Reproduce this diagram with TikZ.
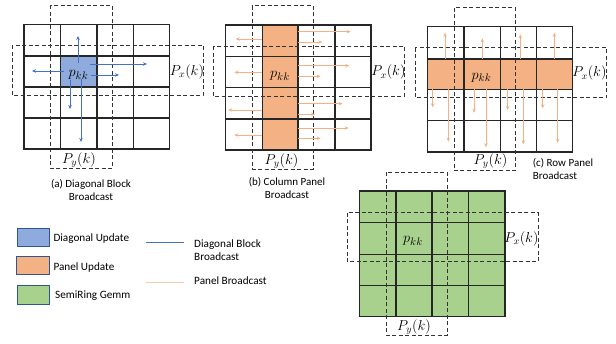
\documentclass[tikz,border=0pt]{standalone}
\usepackage{fontspec}
\setmainfont{Carlito}
\usetikzlibrary{arrows.meta}

\definecolor{diagfill}{HTML}{8FAADC}
\definecolor{diagline}{HTML}{4472C4}
\definecolor{panelfill}{HTML}{F4B183}
\definecolor{panelline}{HTML}{F4B183}
\definecolor{panellegend}{HTML}{F8CBAD}
\definecolor{gemmfill}{HTML}{A9D18E}
\definecolor{legendedge}{HTML}{2F5597}
\definecolor{gridline}{HTML}{262626}
\definecolor{dashline}{HTML}{333333}

\tikzset{
  gridstroke/.style={draw=gridline, line width=1.5pt},
  procbox/.style={draw=dashline, line width=0.9pt, dash pattern=on 4pt off 2.5pt},
  bcastblue/.style={draw=diagline, line width=1pt, -{Stealth[length=4pt,width=3.5pt]}},
  bcastorange/.style={draw=panelline, line width=1pt, -{Stealth[length=4pt,width=3.5pt]}},
  mathlabel/.style={inner sep=0pt, font=\fontsize{14}{16}\selectfont},
  diaglabel/.style={inner sep=0pt, font=\fontsize{15}{17}\selectfont},
  caption/.style={inner sep=0pt, align=center, font=\fontsize{11}{13}\selectfont},
  legendtext/.style={inner sep=0pt, anchor=west, align=left, font=\fontsize{11.2}{13.4}\selectfont},
  legendbox/.style={draw=legendedge, line width=1pt},
}

\begin{document}
\begin{tikzpicture}[x=1pt,y=-1pt]
\useasboundingbox (0,0) rectangle (616,343);

% ---------------- (a) diagonal block broadcast ----------------
\fill[diagfill] (60.7,56) rectangle (97,87);
\foreach \x in {60.7,97,133.5} \draw[gridstroke] (\x,24.3) -- (\x,149);
\foreach \y in {56,87,118} \draw[gridstroke] (24,\y) -- (169.5,\y);
\draw[gridstroke] (24,24.3) rectangle (169.5,149);
\draw[procbox] (50,5) rectangle (112,168);
\draw[procbox] (12,45) rectangle (203,95);
\node[diaglabel] (pa) at (78.5,75) {$p_{kk}$};
\node[mathlabel] (pxa) at (187,72) {$P_x(k)$};
\node[mathlabel] (pya) at (79,160) {$P_y(k)$};
\draw[bcastblue] (78,63) -- (78,36);
\draw[bcastblue] (64,71) -- (32,71);
\draw[bcastblue] (90,64) -- (147,64);
\draw[bcastblue] (91,75) -- (119,75);
\draw[bcastblue] (70,80) -- (70,109);
\draw[bcastblue] (81,79) -- (81,142);
\node[caption] (capa) at (91,190.5) {(a) Diagonal Block\\Broadcast};

% ---------------- (b) column panel broadcast ----------------
\fill[panelfill] (262.3,25) rectangle (298,150);
\foreach \x in {262.3,298,335} \draw[gridstroke] (\x,25) -- (\x,150);
\foreach \y in {56.7,87.7,119} \draw[gridstroke] (225.7,\y) -- (371,\y);
\draw[gridstroke] (225.7,25) rectangle (371,150);
\draw[procbox] (252.3,5.7) rectangle (313.3,169);
\draw[procbox] (213,46.3) rectangle (404.7,96);
\node[diaglabel] (pb) at (280,75.7) {$p_{kk}$};
\node[mathlabel] (pxb) at (388.5,72.3) {$P_x(k)$};
\node[mathlabel] (pyb) at (281.5,161) {$P_y(k)$};
\foreach \y/\e in {39/235.7,72.3/234.3,110/228.3,135/234.3}
  \draw[bcastorange] (262.3,\y) -- (\e,\y);
\foreach \y/\e in {31.7/350.7,42/322.3,65.7/349.3,76.3/320.7,103.7/342.7,114.3/315,128/348.7,138.3/320.7}
  \draw[bcastorange] (298,\y) -- (\e,\y);
\node[caption] (capb) at (287,188.5) {(b) Column Panel\\Broadcast};

% ---------------- (c) row panel broadcast ----------------
\fill[panelfill] (427.7,59) rectangle (572.3,89.3);
\foreach \x in {464,500.3,536.7} \draw[gridstroke] (\x,26.7) -- (\x,152);
\foreach \y in {59,89.3,120.7} \draw[gridstroke] (427.7,\y) -- (572.3,\y);
\draw[gridstroke] (427.7,26.7) rectangle (572.3,152);
\draw[procbox] (454.3,7.7) rectangle (515.3,170.7);
\draw[procbox] (415.3,47.7) rectangle (606.7,97.7);
\node[diaglabel] (pc) at (481.5,77.3) {$p_{kk}$};
\node[mathlabel] (pxc) at (589.5,73.3) {$P_x(k)$};
\node[mathlabel] (pyc) at (490.5,160.7) {$P_y(k)$};
\foreach \x/\e in {445/32.7,482.3/38.3,520.3/34.3,554.3/32.7}
  \draw[bcastorange] (\x,59) -- (\x,\e);
\foreach \x/\e in {432.7/107.3,448.3/141.7,474/112.7,486/147.3,507.7/110,523.3/144.3,542.7/108.3,557.7/142.7}
  \draw[bcastorange] (\x,89.3) -- (\x,\e);
\node[caption, align=left, anchor=north west] (capc) at (532.7,158.5) {(c) Row Panel\\Broadcast};

% ---------------- (d) semiring gemm ----------------
\fill[gemmfill] (359.3,191) rectangle (505,316.7);
\foreach \x in {396,432,468.7} \draw[gridstroke] (\x,191) -- (\x,316.7);
\foreach \y in {222.7,254.3,285.7} \draw[gridstroke] (359.3,\y) -- (505,\y);
\draw[gridstroke] (359.3,191) rectangle (505,316.7);
\draw[procbox] (386,172.3) rectangle (447.3,335);
\draw[procbox] (347.3,212.7) rectangle (538.3,261.7);
\node[diaglabel] (pd) at (413,241) {$p_{kk}$};
\node[mathlabel] (pxd) at (521.5,239) {$P_x(k)$};
\node[mathlabel] (pyd) at (414,326.7) {$P_y(k)$};

% ---------------- legend ----------------
\draw[legendbox, fill=diagfill] (17.3,228.3) rectangle (49.3,246.7);
\draw[legendbox, fill=panelfill] (16.7,256.7) rectangle (49,274);
\draw[legendbox, fill=gemmfill] (17.3,285.7) rectangle (49.7,304);
\node[legendtext] (ldiag) at (53.3,238.3) {Diagonal Update};
\node[legendtext] (lpanel) at (53.3,267.3) {Panel Update};
\node[legendtext] (lgemm) at (55,295.7) {SemiRing Gemm};
\coordinate (lbA) at (146,242.7);
\coordinate (lbB) at (183.7,242.7);
\coordinate (loA) at (146,282.7);
\coordinate (loB) at (183.7,282.7);
\draw[diagline, line width=1.2pt] (lbA) -- (lbB);
\draw[panellegend, line width=1.2pt] (loA) -- (loB);
\node[legendtext] (ldbb) at (194,250) {Diagonal Block\\Broadcast};
\node[legendtext] (lpb) at (194,281) {Panel Broadcast};
\end{tikzpicture}
\end{document}
